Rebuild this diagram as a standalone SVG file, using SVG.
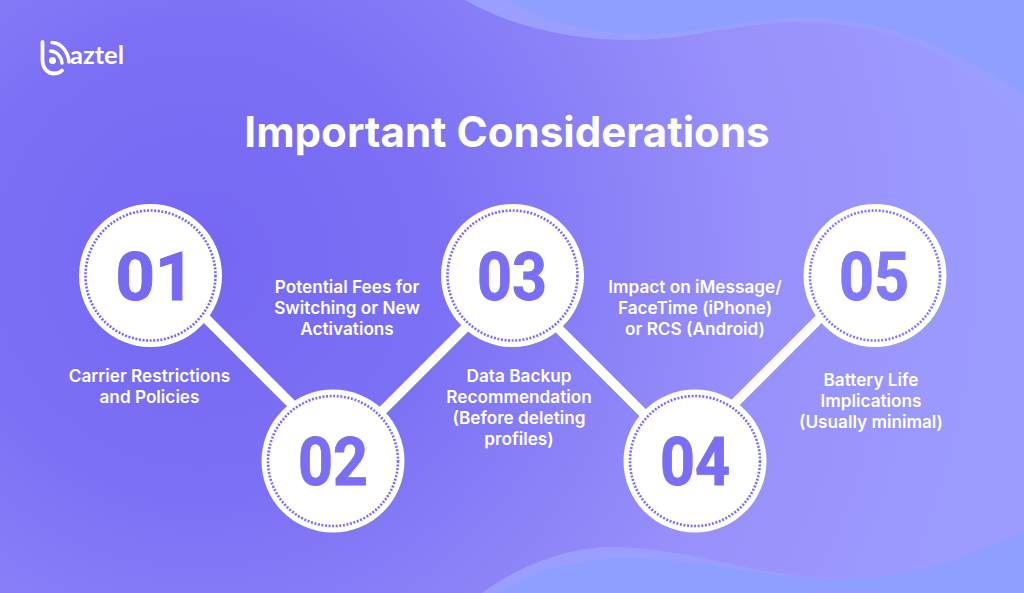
<svg xmlns="http://www.w3.org/2000/svg" width="1024" height="593" viewBox="0 0 1024 593">
<style>
.num{font-family:Roboto,"Liberation Sans",sans-serif;font-weight:700;font-size:67px;fill:#7a6ff4;stroke:#7a6ff4;stroke-width:.9;text-anchor:middle}
.lbl{font-family:Inter,"Liberation Sans",sans-serif;font-weight:600;font-size:17.2px;fill:#fff;text-anchor:middle}
.disc{fill:#fff}
.ring{fill:none;stroke:#7a6ff4;stroke-width:2.6;stroke-dasharray:2 1.6}
#node-01 .num{fill:#7669f2;stroke:#7669f2}
#node-01 .ring{stroke:#7669f2}
#node-05 .num{fill:#807afa;stroke:#807afa}
#node-05 .ring{stroke:#807afa}
</style>
<defs>
<radialGradient id="bg" gradientUnits="userSpaceOnUse" cx="200" cy="260" r="800">
<stop offset="0" stop-color="#7567f3"/><stop offset="0.3" stop-color="#7c71f5"/><stop offset="0.7" stop-color="#9890fb"/><stop offset="1" stop-color="#9c9bff"/>
</radialGradient>
</defs>
<rect width="1024" height="593" fill="url(#bg)"/>
<path d="M465 0C510 26 570 40 630 40C690 40 740 22 800 22C880 22 950 50 1000 100L1024 127V0Z" fill="#9a9fff"/>
<path d="M505 0C545 20 585 34 640 34C700 34 750 17 800 17C880 17 950 45 1024 95V0Z" fill="#8f9fff"/>
<path d="M482 593C520 565 570 547 610 547C680 547 740 570 800 576C880 585 960 565 1024 530V593Z" fill="#9a9fff"/>
<path d="M497 593C530 572 580 558 625 558C680 558 740 572 810 578C880 584 960 565 1024 530V593Z" fill="#8f9fff"/>
<g id="connectors" stroke="#fff" stroke-width="9.500" fill="none">
<path d="M170 282.500L320 432.500"/>
<path d="M360 433L490 303"/>
<path d="M530 300L670 440"/>
<path d="M720 418L850 288"/>
</g>
<g id="logo">
<path d="M42.500 42V60C42.500 68.500 48 73.500 54 73.500C57 73.500 60 72.500 62 70.500" fill="none" stroke="#fff" stroke-width="3.800" stroke-linecap="round"/>
<path d="M52 42.500C61 43 68 51 69 62" fill="none" stroke="#fff" stroke-width="3.600" stroke-linecap="round"/>
<path d="M50.500 51C56 51 61.500 56 62 63" fill="none" stroke="#fff" stroke-width="3.400" stroke-linecap="round"/>
<circle cx="52.500" cy="60.500" r="3.500" fill="#fff"/>
<text x="70" y="63.500" font-family="Lato,'Open Sans',sans-serif" font-weight="700" font-size="25.500" fill="#fff">aztel</text>
</g>
<text id="title" x="507" y="147" font-family="Inter,'Liberation Sans',sans-serif" font-weight="700" font-size="42.100" fill="#fff" text-anchor="middle">Important Considerations</text>
<g id="node-01"><circle class="disc" cx="150.500" cy="275.500" r="71.500"/><circle class="ring" cx="150.500" cy="275.500" r="65"/><text class="num" x="155" y="299.500" textLength="79" lengthAdjust="spacingAndGlyphs">01</text></g>
<g id="node-02"><circle class="disc" cx="333" cy="461" r="71.500"/><circle class="ring" cx="333" cy="461" r="65"/><text class="num" x="333" y="484.500" textLength="70" lengthAdjust="spacingAndGlyphs">02</text></g>
<g id="node-03"><circle class="disc" cx="512.500" cy="275.500" r="71.500"/><circle class="ring" cx="512.500" cy="275.500" r="65"/><text class="num" x="512" y="299.500" textLength="70" lengthAdjust="spacingAndGlyphs">03</text></g>
<g id="node-04"><circle class="disc" cx="695" cy="461" r="71.500"/><circle class="ring" cx="695" cy="461" r="65"/><text class="num" x="695" y="484.500" textLength="70" lengthAdjust="spacingAndGlyphs">04</text></g>
<g id="node-05"><circle class="disc" cx="875" cy="275.500" r="71.500"/><circle class="ring" cx="875" cy="275.500" r="65"/><text class="num" x="874" y="299.500" textLength="70" lengthAdjust="spacingAndGlyphs">05</text></g>
<g id="label-01"><text class="lbl"><tspan x="149.500" y="382">Carrier Restrictions</tspan><tspan x="149.500" y="403">and Policies</tspan></text></g>
<g id="label-02"><text class="lbl"><tspan x="347" y="293">Potential Fees for</tspan><tspan x="347" y="314">Switching or New</tspan><tspan x="347" y="335">Activations</tspan></text></g>
<g id="label-03"><text class="lbl"><tspan x="519" y="382">Data Backup</tspan><tspan x="519" y="403">Recommendation</tspan><tspan x="519" y="424">(Before deleting</tspan><tspan x="519" y="445">profiles)</tspan></text></g>
<g id="label-04"><text class="lbl"><tspan x="695" y="293">Impact on iMessage/</tspan><tspan x="695" y="314">FaceTime (iPhone)</tspan><tspan x="695" y="335">or RCS (Android)</tspan></text></g>
<g id="label-05"><text class="lbl"><tspan x="871" y="386">Battery Life</tspan><tspan x="871" y="407">Implications</tspan><tspan x="871" y="428">(Usually minimal)</tspan></text></g>
</svg>
